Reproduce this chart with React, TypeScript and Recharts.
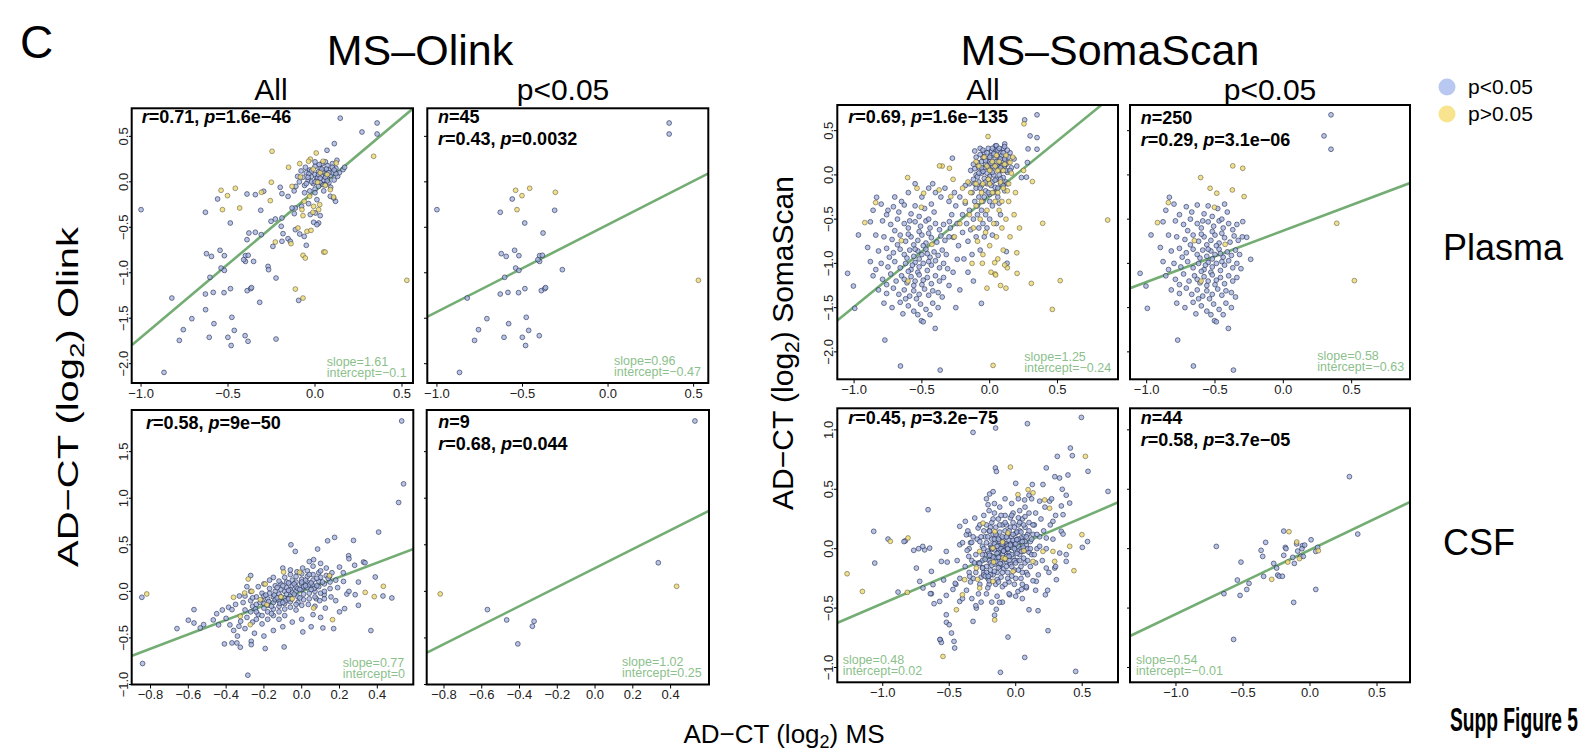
import { ScatterChart, Scatter, XAxis, YAxis, ReferenceLine } from 'recharts'

const FONT = '"Liberation Sans", Arial, Helvetica, sans-serif'
const LINE_GREEN = '#74ad74'
const TEXT_GREEN = '#8cbf8c'

type Pt = [number, number]

// ---- MS vs Olink, plasma ----
const olinkPlasmaSigBlue: Pt[] = [
  [0.357, 0.647], [0.357, 0.526], [-1.0, -0.306], [-0.63, -0.335], [-0.56, -0.189], [-0.312, -0.313], [-0.487, -0.453],
  [-0.38, -0.563], [-0.624, -0.79], [-0.595, -0.82], [-0.546, -0.753], [-0.521, -0.812], [-0.4, -0.812], [-0.384, -0.808],
  [-0.4, -0.875], [-0.54, -0.948], [-0.521, -0.974], [-0.604, -1.05], [-0.267, -0.966], [-0.823, -1.278], [-0.63, -1.234],
  [-0.585, -1.216], [-0.523, -1.219], [-0.486, -1.175], [-0.39, -1.197], [-0.37, -1.175], [-0.365, -1.164], [-0.708, -1.505],
  [-0.478, -1.49], [-0.757, -1.626], [-0.581, -1.56], [-0.464, -1.634], [-0.78, -1.744], [-0.608, -1.71], [-0.501, -1.71],
  [-0.402, -1.692], [-0.482, -1.8], [-0.868, -2.096], [-0.41, -0.856],
]
const olinkPlasmaSigYellow: Pt[] = [
  [-0.54, -0.093], [-0.458, -0.071], [-0.503, -0.152], [-0.532, -0.306], [-0.308, -0.115], [0.528, -1.083],
]
const olinkPlasmaRestBlue: Pt[] = [
  [-0.629, -1.406], [-0.385, -1.754], [-0.224, -1.729], [-0.318, -1.325], [-0.224, -1.058], [-0.27, -0.93], [-0.353, -0.875],
  [-0.343, -0.555], [-0.391, -0.636], [-0.309, -0.581], [0.145, 0.7], [0.27, 0.548], [0.111, 0.42], [0.069, 0.347],
  [0.126, 0.237], [0.161, 0.134], [0.118, -0.214], [-0.295, -0.104], [-0.343, -0.141], [-0.391, -0.134], [-0.253, -0.434],
  [-0.228, -0.409], [-0.19, -0.398], [-0.194, -0.489], [-0.184, -0.57], [-0.19, -0.654], [-0.155, -0.625], [-0.142, -0.654],
  [-0.113, -0.526], [-0.088, -0.574], [-0.05, -0.698], [-0.062, -0.6], [-0.113, -0.288], [-0.132, -0.288], [-0.119, -0.35],
  [-0.077, -0.27], [-0.027, -0.36], [0.002, -0.343], [-0.037, -0.24], [0.011, -0.196], [0.03, -0.372], [0.021, -0.453],
  [-0.008, -0.445], [0.011, -0.471], [0.088, -0.159], [0.107, -0.178], [0.046, -0.031], [-0.242, -0.71], [-0.094, -1.304],
  [-0.155, -0.16], [-0.19, -0.13], [-0.2, -0.06], [-0.12, -0.1], [-0.06, -0.12],
  [-0.07, 0.05], [-0.05, 0.1], [-0.04, 0.02], [-0.03, 0.13], [-0.02, 0.06], [-0.01, -0.02], [0.0, 0.08], [0.0, 0.17],
  [0.01, 0.03], [0.02, 0.11], [0.02, -0.05], [0.03, 0.0], [0.03, 0.15], [0.04, 0.07], [0.04, 0.2], [0.05, 0.02],
  [0.05, 0.12], [0.06, -0.03], [0.06, 0.09], [0.07, 0.18], [0.07, 0.04], [0.08, 0.13], [0.08, -0.01], [0.09, 0.07],
  [0.1, 0.2], [0.1, 0.1], [0.11, 0.02], [0.12, 0.15], [0.13, 0.06], [-0.06, -0.04], [-0.02, 0.0], [0.0, -0.08],
  [0.015, 0.05], [-0.035, 0.09], [0.045, 0.11], [0.025, 0.19], [0.065, 0.14], [-0.055, 0.16], [-0.09, 0.0], [-0.08, 0.12],
  [0.09, -0.06], [0.14, 0.1], [0.17, 0.16], [-0.1, 0.06], [0.0, -0.12], [0.05, -0.1], [-0.11, -0.05], [-0.03, -0.1],
  [-0.04, 0.05], [0.0, 0.0], [0.02, 0.08], [0.04, 0.14], [0.06, 0.05], [0.08, 0.1], [0.1, 0.16], [0.12, 0.09],
  [-0.02, 0.12], [0.0, 0.22], [0.06, 0.22], [0.03, 0.04], [-0.05, -0.02], [0.11, 0.13], [0.07, 0.01],
]
const olinkPlasmaRestYellow: Pt[] = [
  [-0.247, 0.336], [-0.251, -0.005], [-0.257, -0.207], [-0.152, 0.16], [-0.088, 0.2], [0.007, 0.317], [-0.027, 0.25],
  [-0.037, 0.226], [0.046, 0.226], [0.122, 0.207], [-0.084, 0.053], [0.015, -0.005], [0.059, -0.038], [0.088, -0.086],
  [-0.062, -0.214], [-0.008, -0.27], [-0.031, -0.159], [0.027, -0.251], [0.021, -0.306], [-0.012, -0.335], [-0.069, -0.372],
  [-0.075, -0.306], [-0.098, -0.508], [-0.046, -0.545], [-0.023, -0.534], [-0.228, -0.662], [-0.138, -0.68], [-0.069, -0.808],
  [-0.056, -0.838], [0.05, -0.772], [0.058, -0.772], [-0.113, -1.179], [-0.069, -1.278], [0.337, 0.281], [0.107, -0.167],
  [-0.132, -0.05], [0.03, 0.1], [0.07, 0.08], [-0.01, 0.14], [-0.433, -0.288],
]

// ---- MS vs Olink, CSF ----
const olinkCsfSigBlue: Pt[] = [
  [0.529, 1.829], [-0.57, -0.196], [-0.468, -0.307], [-0.409, -0.564], [-0.332, -0.375], [-0.323, -0.321], [0.335, 0.307],
]
const olinkCsfSigYellow: Pt[] = [[-0.82, -0.028], [0.432, 0.054]]
const olinkCsfRestBlue: Pt[] = [
  [0.539, 1.154], [0.513, 0.954], [0.407, 0.636], [0.274, 0.547], [0.174, 0.579], [0.137, 0.543], [-0.057, 0.5],
  [-0.034, 0.429], [0.248, 0.382], [0.327, 0.315], [0.2, 0.261], [0.389, 0.154], [0.477, -0.071], [0.366, -0.421],
  [-0.846, -0.064], [-0.842, -0.775], [-0.519, -0.357], [-0.537, -0.393], [-0.387, -0.171], [-0.369, -0.196], [-0.369, -0.554],
  [-0.343, -0.554], [-0.325, -0.6], [-0.267, -0.536], [-0.267, -0.572], [-0.285, -0.9], [-0.193, -0.614], [-0.093, -0.597],
  [0.006, -0.436], [0.112, -0.393], [0.169, -0.4], [0.227, -0.185], [0.239, -0.029], [0.283, -0.036], [0.084, 0.454],
  [0.063, 0.34], [0.147, 0.161], [0.221, 0.107], [0.077, -0.079], [0.119, -0.036],
  [-0.3, -0.05], [-0.3, -0.2], [-0.29, -0.28], [-0.31, -0.12], [-0.29, 0.05], [-0.27, -0.1], [-0.27, -0.22], [-0.26, -0.33],
  [-0.27, 0.0], [-0.26, -0.16], [-0.24, -0.06], [-0.24, -0.14], [-0.23, -0.25], [-0.24, -0.3], [-0.23, 0.05], [-0.245, -0.19],
  [-0.21, -0.02], [-0.21, -0.1], [-0.2, -0.18], [-0.21, -0.26], [-0.2, 0.08], [-0.21, -0.35], [-0.2, -0.05], [-0.18, -0.08],
  [-0.18, -0.15], [-0.17, -0.02], [-0.18, -0.22], [-0.17, 0.12], [-0.18, -0.3], [-0.17, 0.03], [-0.175, -0.11], [-0.15, -0.06],
  [-0.15, -0.12], [-0.14, 0.0], [-0.15, -0.19], [-0.14, 0.06], [-0.15, -0.26], [-0.14, -0.09], [-0.15, 0.15], [-0.145, -0.04],
  [-0.12, -0.03], [-0.12, -0.1], [-0.11, 0.02], [-0.12, -0.16], [-0.11, 0.08], [-0.12, -0.22], [-0.11, -0.06], [-0.12, 0.11],
  [-0.115, -0.13], [-0.12, -0.3], [-0.09, 0.0], [-0.09, -0.07], [-0.08, 0.04], [-0.09, -0.13], [-0.08, 0.1], [-0.09, -0.19],
  [-0.08, -0.03], [-0.09, 0.15], [-0.085, -0.1], [-0.09, -0.26], [-0.06, 0.02], [-0.06, -0.05], [-0.05, 0.06], [-0.06, -0.11],
  [-0.05, 0.12], [-0.06, -0.17], [-0.05, -0.01], [-0.06, 0.18], [-0.055, -0.08], [-0.06, 0.23], [-0.03, 0.0], [-0.03, 0.05],
  [-0.02, -0.06], [-0.03, 0.1], [-0.02, -0.12], [-0.03, 0.16], [-0.02, 0.03], [-0.03, -0.2], [-0.025, 0.21], [0.0, 0.02],
  [0.0, 0.08], [0.01, -0.03], [0.0, 0.13], [0.01, -0.09], [0.0, 0.19], [0.01, 0.05], [0.0, -0.15], [0.005, 0.25],
  [0.03, 0.04], [0.03, 0.1], [0.04, -0.02], [0.03, 0.16], [0.04, -0.08], [0.03, 0.22], [0.04, 0.07], [0.035, -0.14],
  [0.06, 0.06], [0.06, 0.12], [0.07, 0.0], [0.06, 0.18], [0.07, -0.06], [0.06, 0.27], [0.065, 0.03], [0.07, -0.16],
  [0.06, -0.25], [0.09, 0.05], [0.09, 0.11], [0.1, -0.02], [0.09, 0.2], [0.1, 0.3], [0.095, -0.1], [0.1, 0.15],
  [0.12, 0.08], [0.12, 0.0], [0.13, 0.17], [0.12, -0.08], [0.13, 0.25], [0.125, -0.18], [0.15, 0.1], [0.15, 0.03],
  [0.16, 0.2], [0.155, -0.06], [0.18, 0.12], [0.19, 0.04], [0.18, -0.1],
  [-0.42, -0.2], [-0.4, -0.29], [-0.36, -0.42], [-0.35, -0.14], [-0.33, -0.05], [-0.34, -0.48], [-0.38, -0.36], [-0.45, -0.24],
  [-0.44, -0.36], [-0.3, -0.4], [-0.25, -0.45], [-0.2, -0.48], [-0.15, -0.42], [-0.1, -0.38], [-0.05, -0.33], [0.0, -0.3],
  [0.05, -0.38], [0.1, -0.28], [0.2, -0.22], [0.25, 0.0], [0.3, 0.1], [0.22, 0.2], [0.28, 0.28], [0.3, -0.15],
  [0.43, -0.05], [0.25, 0.35], [-0.27, 0.17], [-0.1, 0.25], [0.04, 0.32], [-0.6, -0.31], [-0.57, -0.34], [-0.66, -0.4],
  [-0.22, -0.12], [-0.19, -0.04], [-0.16, -0.16], [-0.13, -0.07], [-0.13, 0.04], [-0.1, -0.12], [-0.1, 0.06], [-0.07, -0.08],
  [-0.07, 0.01], [-0.04, -0.03], [-0.04, 0.08], [-0.01, 0.02], [-0.01, -0.07], [0.02, 0.06], [0.02, 0.12], [0.05, 0.02],
  [0.05, 0.09], [0.08, 0.14], [0.08, 0.06], [0.11, 0.1], [-0.16, -0.24], [-0.2, -0.13], [-0.26, -0.07], [-0.24, -0.22],
  [-0.07, 0.09], [-0.03, -0.14], [0.0, 0.1], [0.04, 0.18], [0.1, 0.22], [0.14, 0.14],
]
const olinkCsfRestYellow: Pt[] = [
  [-0.361, -0.064], [-0.283, 0.132], [-0.264, 0.0], [-0.193, 0.079], [-0.096, 0.207], [-0.011, 0.204], [0.147, 0.168],
  [0.336, -0.011], [0.384, -0.057], [0.163, -0.304], [0.063, -0.179], [-0.272, -0.357], [-0.325, -0.268], [-0.219, -0.089],
  [-0.184, -0.143], [-0.11, -0.06], [-0.05, -0.08], [-0.302, -0.018],
]

// ---- MS vs SomaScan, plasma ----
const somaPlasmaSigBlue: Pt[] = [
  [0.349, 0.679], [0.298, 0.441], [0.349, 0.29], [-0.834, -0.253], [-0.968, -0.679], [-1.048, -1.112], [-1.005, -1.256],
  [-0.995, -1.508], [-0.773, -1.867], [-0.658, -2.16], [-0.365, -2.206], [-0.402, -1.735], [-0.504, -1.648], [-0.49, -1.66],
  [-0.239, -0.954], [-0.268, -0.705], [-0.297, -0.528],
  [-0.8, -0.33], [-0.71, -0.36], [-0.63, -0.34], [-0.55, -0.35], [-0.48, -0.38], [-0.43, -0.33], [-0.41, -0.42], [-0.67, -0.42],
  [-0.76, -0.45], [-0.58, -0.44], [-0.52, -0.47], [-0.86, -0.4], [-0.88, -0.53], [-0.79, -0.52], [-0.73, -0.56], [-0.68, -0.5],
  [-0.63, -0.55], [-0.6, -0.6], [-0.55, -0.53], [-0.51, -0.58], [-0.47, -0.52], [-0.44, -0.6], [-0.4, -0.55], [-0.37, -0.62],
  [-0.34, -0.56], [-0.7, -0.63], [-0.52, -0.64], [-0.59, -0.52], [-0.45, -0.5], [-0.84, -0.68], [-0.78, -0.7], [-0.72, -0.73],
  [-0.66, -0.68], [-0.62, -0.75], [-0.58, -0.7], [-0.53, -0.74], [-0.5, -0.68], [-0.47, -0.77], [-0.43, -0.71], [-0.39, -0.76],
  [-0.36, -0.69], [-0.33, -0.74], [-0.3, -0.7], [-0.68, -0.79], [-0.56, -0.79], [-0.49, -0.8], [-0.45, -0.66], [-0.6, -0.67],
  [-0.9, -0.82], [-0.82, -0.86], [-0.76, -0.83], [-0.71, -0.88], [-0.66, -0.84], [-0.63, -0.9], [-0.59, -0.85], [-0.56, -0.92],
  [-0.53, -0.86], [-0.5, -0.9], [-0.47, -0.84], [-0.44, -0.93], [-0.41, -0.87], [-0.38, -0.91], [-0.35, -0.85], [-0.32, -0.9],
  [-0.74, -0.93], [-0.61, -0.94], [-0.52, -0.95], [-0.46, -0.89], [-0.55, -0.84], [-0.88, -0.98], [-0.8, -1.0], [-0.75, -1.04],
  [-0.7, -0.98], [-0.66, -1.05], [-0.62, -1.0], [-0.58, -1.07], [-0.55, -0.99], [-0.52, -1.04], [-0.49, -1.0], [-0.46, -1.08],
  [-0.43, -1.02], [-0.4, -0.97], [-0.37, -1.05], [-0.34, -1.0], [-0.31, -1.06], [-0.84, -1.07], [-0.6, -1.09], [-0.53, -1.1],
  [-0.45, -0.98], [-0.57, -1.02], [-0.86, -1.14], [-0.79, -1.18], [-0.73, -1.12], [-0.69, -1.2], [-0.65, -1.14], [-0.61, -1.22],
  [-0.58, -1.15], [-0.55, -1.2], [-0.52, -1.13], [-0.49, -1.19], [-0.46, -1.16], [-0.43, -1.23], [-0.4, -1.14], [-0.37, -1.2],
  [-0.34, -1.16], [-0.76, -1.24], [-0.56, -1.25], [-0.5, -1.24], [-0.63, -1.18], [-0.82, -1.3], [-0.76, -1.34], [-0.71, -1.28],
  [-0.67, -1.35], [-0.63, -1.3], [-0.59, -1.37], [-0.56, -1.31], [-0.52, -1.35], [-0.48, -1.29], [-0.45, -1.36], [-0.42, -1.31],
  [-0.38, -1.33], [-0.35, -1.38], [-0.54, -1.4], [-0.62, -1.4], [-0.78, -1.45], [-0.72, -1.5], [-0.66, -1.44], [-0.6, -1.48],
  [-0.56, -1.54], [-0.51, -1.46], [-0.47, -1.52], [-0.42, -1.45], [-0.38, -1.5], [-0.64, -1.57], [-0.53, -1.58], [-0.44, -1.58],
]
const somaPlasmaSigYellow: Pt[] = [
  [-0.37, 0.102], [-0.297, 0.075], [-0.605, -0.03], [-0.536, -0.151], [-0.487, -0.207], [-0.373, -0.17], [-0.287, -0.245],
  [-0.841, -0.313], [-0.921, -0.539], [0.391, -0.547], [0.52, -1.195], [-0.504, -0.366], [-0.651, -0.743], [-0.426, -0.785],
  [-0.602, -1.2],
]
const somaPlasmaRestBlue: Pt[] = [
  [0.258, 0.622], [0.349, 0.422], [0.042, 0.328], [0.111, 0.35], [0.283, 0.294], [-0.275, 0.189], [0.278, 0.14],
  [0.234, -0.03], [0.271, -0.026], [-0.061, -1.452], [0.123, -0.867], [0.128, -0.999],
  [-0.14, 0.05], [-0.12, -0.05], [-0.12, 0.12], [-0.1, -0.15], [-0.1, 0.0], [-0.1, 0.2], [-0.08, 0.08], [-0.08, -0.08],
  [-0.08, -0.25], [-0.06, 0.15], [-0.06, 0.02], [-0.06, -0.12], [-0.05, -0.3], [-0.04, 0.25], [-0.04, 0.08], [-0.04, -0.04],
  [-0.03, -0.18], [-0.02, 0.18], [-0.02, 0.02], [-0.02, -0.1], [-0.01, 0.3], [0.0, 0.1], [0.0, -0.02], [0.0, -0.22],
  [0.01, 0.22], [0.01, 0.05], [0.02, -0.08], [0.02, -0.35], [0.03, 0.15], [0.03, 0.0], [0.04, 0.28], [0.04, -0.14],
  [0.05, 0.08], [0.05, -0.05], [0.06, 0.2], [0.06, -0.25], [0.07, 0.12], [0.07, 0.0], [0.08, 0.25], [0.08, -0.1],
  [0.09, 0.05], [0.09, 0.16], [0.1, -0.03], [0.1, 0.3], [0.11, 0.1], [0.11, -0.18], [0.12, 0.2], [0.13, 0.03],
  [0.14, 0.14], [0.15, 0.25], [0.16, 0.08], [0.18, 0.18], [0.2, 0.1], [0.05, 0.33], [-0.07, 0.3], [-0.09, -0.35],
  [-0.13, -0.2], [-0.15, -0.1], [0.0, 0.15], [0.02, 0.1], [-0.03, 0.12], [0.06, 0.1], [-0.01, -0.05], [0.03, -0.2],
  [0.12, -0.08], [0.07, -0.32], [-0.11, 0.27], [0.015, 0.27], [-0.05, 0.2], [0.09, 0.22],
  [-0.11, 0.07], [-0.11, -0.1], [-0.09, 0.14], [-0.09, -0.02], [-0.07, 0.23], [-0.07, -0.15], [-0.05, 0.04], [-0.05, 0.28],
  [-0.03, -0.08], [-0.03, 0.16], [-0.01, 0.08], [-0.01, -0.2], [0.01, 0.13], [0.01, -0.12], [0.02, 0.3], [0.02, 0.03],
  [0.04, 0.18], [0.04, -0.06], [0.05, 0.13], [0.06, -0.15], [0.06, 0.28], [0.07, 0.06], [0.08, 0.18], [0.08, -0.05],
  [0.09, 0.1], [0.1, 0.25], [0.1, -0.12], [0.11, 0.18], [0.12, 0.05], [0.13, 0.28], [0.13, -0.1], [0.14, 0.2],
  [-0.04, -0.25], [0.0, -0.3], [0.03, 0.24], [-0.02, 0.25], [0.07, 0.3], [0.11, 0.32], [0.0, 0.2], [-0.08, 0.02],
  [0.05, 0.15], [0.08, 0.08], [-0.06, 0.08], [0.12, 0.12], [0.15, 0.05],
  [-0.3, -0.3], [-0.28, -0.45], [-0.25, -0.35], [-0.24, -0.55], [-0.22, -0.25], [-0.2, -0.45], [-0.2, -0.65], [-0.18, -0.32],
  [-0.17, -0.55], [-0.16, -0.75], [-0.15, -0.4], [-0.14, -0.62], [-0.13, -0.9], [-0.12, -0.5], [-0.11, -0.3], [-0.1, -0.7],
  [-0.09, -0.45], [-0.08, -0.6], [-0.07, -0.85], [-0.06, -0.4], [-0.05, -0.55], [-0.04, -0.7], [-0.03, -0.45], [-0.02, -0.6],
  [0.0, -0.5], [0.02, -0.68], [0.05, -0.55], [0.08, -0.45], [-0.26, -0.2], [-0.33, -0.15], [-0.29, -0.6], [-0.23, -0.8],
  [-0.19, -0.95], [-0.27, -1.1], [-0.16, -1.1], [-0.22, -1.3], [-0.12, -1.2], [-0.25, -1.5], [-0.3, -1.25], [-0.18, -0.12],
  [-0.36, -0.25], [-0.4, -0.2], [-0.45, -0.15], [-0.42, -0.1], [-0.5, -0.25], [-0.6, -0.2], [-0.7, -0.25], [-0.75, -0.4],
  [-0.65, -0.3], [-0.55, -0.1],
]
const somaPlasmaRestYellow: Pt[] = [
  [0.253, 0.577], [-0.012, 0.434], [0.025, -2.153], [0.462, -1.52], [0.307, -1.226], [0.202, -1.113], [0.87, -0.51],
  [0.315, -0.075], [-0.18, -0.3], [-0.15, -0.45], [-0.14, -0.2], [-0.12, -0.6], [-0.1, -0.35], [-0.09, -0.75], [-0.08, 0.1],
  [-0.07, -0.5], [-0.06, -0.2], [-0.05, -0.9], [-0.04, 0.2], [-0.03, -0.65], [-0.02, -0.4], [-0.01, -0.05], [0.0, -0.8],
  [0.01, -1.1], [0.02, 0.15], [0.03, -0.55], [0.04, -0.3], [0.05, -0.7], [0.06, -0.95], [0.06, 0.05], [0.07, -0.4],
  [0.08, -1.25], [0.09, -0.6], [0.1, -0.15], [0.1, -0.85], [0.11, 0.12], [0.12, -0.5], [0.13, -1.05], [0.14, -0.3],
  [0.15, -0.7], [0.16, 0.02], [0.18, -0.45], [0.2, -0.88], [0.22, -0.6], [0.17, 0.2], [0.05, 0.22], [-0.1, 0.15],
  [-0.16, -0.08], [-0.2, -0.15], [-0.22, -0.55], [-0.26, -0.7], [-0.13, -1.0], [-0.02, -1.28], [0.04, -1.12], [0.12, -1.28],
  [0.02, -0.2], [0.08, -0.08], [-0.05, -0.1], [0.0, 0.05], [0.14, -0.1], [0.19, -0.2], [0.25, 0.05], [-0.35, 0.1],
  [-0.27, -0.05], [0.037, -0.992], [-0.054, -0.999], [0.111, -1.018], [0.044, -1.131],
  [-0.02, 0.1], [0.04, 0.1], [0.1, 0.05], [0.12, 0.22], [0.07, 0.15], [-0.06, -0.3], [0.0, -0.1], [0.06, -0.2],
  [0.13, -0.18], [-0.1, -0.1], [0.09, -0.3], [0.15, 0.14],
]

// ---- MS vs SomaScan, CSF ----
const somaCsfSigBlue: Pt[] = [
  [0.294, 0.606], [0.356, 0.123], [-0.699, 0.019], [-0.331, 0.053], [-0.365, -0.014], [-0.353, -0.065], [-0.515, -0.113],
  [-0.542, -0.264], [-0.455, -0.292], [-0.472, -0.343], [-0.642, -0.379], [-0.522, -0.393], [-0.122, -0.452], [-0.57, -0.764],
  [-0.196, 0.148], [0.008, 0.075], [-0.184, 0.011], [-0.179, 0.0], [-0.057, 0.025], [-0.196, -0.056], [-0.129, -0.073],
  [-0.117, -0.124], [-0.271, -0.124], [-0.249, -0.163], [-0.346, -0.233], [-0.241, -0.222], [-0.229, -0.232], [-0.206, -0.232],
  [0.043, -0.023], [0.057, 0.011], [0.043, -0.343], [-0.092, -0.02], [-0.069, -0.065], [-0.05, -0.065], [-0.06, 0.0],
  [-0.04, 0.03], [-0.1, 0.04],
]
const somaCsfSigYellow: Pt[] = [
  [-0.157, 0.143], [-0.099, 0.056], [-0.079, -0.084], [-0.166, -0.113], [-0.286, -0.258], [0.062, -0.017],
]
const somaCsfRestBlue: Pt[] = [
  [0.494, 1.105], [0.088, 1.052], [-0.151, 1.015], [-0.321, 0.979], [0.411, 0.847], [0.313, 0.777], [0.426, 0.783],
  [0.544, 0.651], [-0.153, 0.679], [-0.145, 0.65], [0.694, 0.482], [-0.659, 0.328], [-1.068, 0.146], [-1.06, -0.121],
  [-0.96, 0.081], [-0.83, 0.066], [-0.84, 0.06], [-0.767, -0.014], [-0.73, 0.0], [-0.685, -0.01], [-0.647, 0.005],
  [-0.885, -0.365], [-0.697, -0.331], [-0.634, -0.379], [-0.614, -0.463], [-0.567, -0.766], [-0.559, -0.789], [-0.521, -0.62],
  [-0.5, -0.64], [-0.483, -0.71], [-0.464, -0.78], [-0.459, -0.836], [-0.115, -1.041], [0.068, -0.915], [0.243, -0.69],
  [-0.058, -0.744], [0.168, -0.522], [0.1, -0.514], [0.451, -1.033], [0.331, -0.037], [0.38, -0.05], [0.501, 0.011],
  [0.223, -0.388], [0.54, 0.06], [0.38, 0.45], [0.35, 0.5], [-0.159, -0.56], [-0.146, -0.51], [-0.379, 0.23],
  [-0.351, 0.123], [-0.208, 0.37], [-0.196, 0.46], [-0.17, 0.48],
  [0.33, 0.595], [0.393, 0.62], [0.23, 0.68], [0.205, 0.54], [0.125, 0.54], [0.1, 0.45], [0.0, 0.55], [0.067, 0.41],
  [0.255, 0.4], [0.343, 0.36], [0.406, 0.384], [0.28, 0.23], [0.356, 0.286], [0.343, 0.146], [0.23, 0.09], [0.38, -0.107],
  [0.293, -0.163], [0.306, -0.261], [0.23, -0.163], [0.155, -0.275], [0.08, -0.33], [0.017, -0.36], [-0.045, -0.388],
  [-0.321, -0.612], [-0.296, -0.5], [-0.421, -0.444], [-0.522, -0.556], [-0.572, -0.444], [-0.622, -0.303], [-0.722, -0.275],
  [-0.747, -0.163], [-0.634, -0.191], [-0.559, -0.107], [-0.522, -0.023], [-0.421, 0.033], [-0.371, 0.117], [-0.283, 0.174],
  [-0.308, 0.258], [-0.421, 0.188],
  [-0.25, -0.1], [-0.25, 0.02], [-0.24, -0.2], [-0.23, 0.1], [-0.23, -0.05], [-0.22, -0.15], [-0.22, 0.05], [-0.21, -0.25],
  [-0.21, -0.02], [-0.2, 0.15], [-0.2, -0.1], [-0.19, 0.03], [-0.19, -0.18], [-0.18, 0.08], [-0.18, -0.06], [-0.17, -0.22],
  [-0.17, 0.12], [-0.16, -0.01], [-0.16, -0.13], [-0.15, 0.05], [-0.15, 0.18], [-0.15, -0.08], [-0.14, -0.2], [-0.14, 0.1],
  [-0.13, -0.03], [-0.13, 0.0], [-0.12, -0.15], [-0.12, 0.14], [-0.12, 0.06], [-0.11, -0.09], [-0.11, -0.24], [-0.1, 0.02],
  [-0.1, 0.2], [-0.1, -0.05], [-0.09, 0.09], [-0.09, -0.17], [-0.08, -0.01], [-0.08, 0.15], [-0.07, -0.11], [-0.07, 0.04],
  [-0.06, 0.12], [-0.06, -0.2], [-0.05, -0.04], [-0.05, 0.07], [-0.04, 0.18], [-0.04, -0.13], [-0.03, 0.01], [-0.03, 0.1],
  [-0.02, -0.07], [-0.02, 0.22], [-0.01, 0.05], [-0.01, -0.18], [0.0, 0.13], [0.0, -0.02], [0.01, 0.08], [0.01, -0.1],
  [0.02, 0.2], [0.02, 0.02], [0.03, -0.05], [0.03, 0.15], [0.04, 0.06], [0.04, -0.15], [0.05, 0.25], [0.05, 0.0],
  [0.06, 0.1], [0.06, -0.08], [0.07, 0.18], [0.08, 0.03], [0.08, -0.2], [0.09, 0.12], [0.1, 0.22], [0.1, -0.03],
  [-0.24, 0.15], [-0.18, 0.22], [-0.13, 0.25], [-0.08, 0.28], [-0.02, 0.3], [0.03, 0.32], [-0.2, -0.3], [-0.15, -0.3],
  [-0.1, -0.32], [-0.05, -0.28], [0.0, -0.25], [0.05, -0.3], [-0.27, -0.3], [-0.3, -0.2], [-0.3, -0.05], [-0.29, 0.08],
  [-0.16, 0.08], [-0.11, 0.03], [-0.06, -0.06], [-0.01, 0.0], [0.04, 0.09], [-0.14, -0.04], [-0.19, -0.12], [-0.07, 0.2],
  [0.07, 0.06], [-0.03, -0.23],
  [-0.28, -0.12], [-0.27, 0.06], [-0.26, -0.24], [-0.25, -0.16], [-0.24, 0.0], [-0.23, -0.09], [-0.22, -0.2], [-0.21, 0.1],
  [-0.2, -0.04], [-0.2, -0.27], [-0.19, 0.18], [-0.18, -0.14], [-0.18, 0.0], [-0.17, -0.07], [-0.17, 0.25], [-0.16, -0.19],
  [-0.16, 0.04], [-0.15, -0.11], [-0.15, 0.12], [-0.14, -0.26], [-0.14, 0.02], [-0.13, 0.08], [-0.13, -0.16], [-0.12, -0.07],
  [-0.12, 0.2], [-0.11, 0.0], [-0.11, -0.13], [-0.1, 0.1], [-0.1, -0.2], [-0.09, -0.02], [-0.09, 0.05], [-0.08, -0.09],
  [-0.08, 0.22], [-0.07, -0.15], [-0.07, 0.1], [-0.06, 0.0], [-0.06, -0.25], [-0.05, 0.15], [-0.05, -0.1], [-0.04, 0.04],
  [-0.04, 0.26], [-0.03, -0.05], [-0.03, -0.15], [-0.02, 0.12], [-0.02, 0.07], [-0.01, -0.1], [-0.01, 0.18], [0.0, 0.04],
  [0.0, -0.12], [0.01, 0.14], [0.01, -0.04], [0.02, -0.18], [0.02, 0.08], [0.03, 0.22], [0.03, -0.1], [0.04, 0.0],
  [0.04, 0.14], [0.05, -0.2], [0.05, 0.06], [0.06, 0.2], [0.06, -0.02], [0.07, -0.12], [0.08, 0.1], [0.09, 0.0],
  [0.09, -0.1], [0.1, 0.15], [0.11, 0.06], [0.12, -0.05], [0.13, 0.12], [0.14, 0.2], [-0.26, 0.1], [-0.22, 0.2],
  [-0.25, -0.05], [-0.19, -0.22], [-0.13, -0.28], [-0.08, -0.3], [-0.03, 0.28], [0.02, 0.26], [0.07, 0.27], [-0.11, 0.28],
  [-0.16, 0.3], [-0.21, -0.33], [-0.01, -0.3], [0.04, -0.25], [0.09, -0.22], [0.15, -0.12], [0.16, 0.0], [0.18, 0.1],
  [-0.33, -0.1], [-0.32, -0.25], [-0.35, -0.2], [-0.34, 0.05],
  [-0.44, -0.1], [-0.42, -0.25], [-0.4, 0.05], [-0.38, -0.15], [-0.37, -0.35], [-0.35, 0.0], [-0.34, -0.28], [-0.33, -0.42],
  [-0.32, 0.1], [-0.31, -0.12], [-0.3, -0.48], [-0.28, -0.38], [-0.27, 0.2], [-0.26, -0.45], [-0.24, 0.28], [-0.22, -0.38],
  [-0.2, 0.32], [-0.18, -0.45], [-0.16, 0.38], [-0.14, -0.4], [-0.12, 0.35], [-0.1, -0.45], [-0.08, 0.42], [-0.05, -0.38],
  [-0.03, 0.38], [0.0, -0.4], [0.02, 0.42], [0.05, -0.42], [0.07, 0.35], [0.08, -0.32], [0.1, 0.3], [0.11, -0.15],
  [0.12, 0.08], [0.13, 0.2], [0.14, -0.05], [0.15, 0.3], [0.16, 0.12], [0.17, -0.22], [0.18, 0.02], [0.19, 0.25],
  [0.2, -0.1], [0.21, 0.15], [0.22, 0.35], [0.23, 0.0], [0.25, -0.2], [0.26, 0.2], [0.28, 0.08], [0.3, -0.15],
  [0.27, 0.42], [0.12, 0.42], [-0.36, 0.15], [-0.4, -0.42], [-0.45, -0.3], [0.15, -0.35], [0.3, 0.28], [0.24, -0.35],
  [0.18, 0.4], [-0.22, 0.42], [0.11, 0.0], [0.13, -0.27],
]
const somaCsfRestYellow: Pt[] = [
  [-0.04, 0.687], [0.524, 0.777], [-1.268, -0.211], [-1.153, -0.36], [-0.943, 0.062], [-0.81, 0.09], [-0.815, -0.368],
  [-0.547, -0.907], [0.438, -0.185], [0.498, 0.118], [-0.446, -0.514], [-0.401, -0.388], [-0.158, -0.6],
  [0.093, 0.497], [0.13, 0.47], [0.218, 0.41], [0.255, 0.34], [-0.246, 0.215], [0.017, 0.455], [0.28, -0.023],
  [0.293, -0.107], [0.406, 0.02], [-0.058, 0.132], [-0.171, 0.005], [-0.095, -0.078], [-0.271, -0.023], [-0.296, -0.163],
  [-0.384, -0.261], [-0.271, -0.331], [-0.171, -0.275], [-0.02, -0.191], [0.13, -0.107], [0.205, -0.023],
]

// regression fits and correlation stats, one entry per panel
const fitSlope = [1.61, 0.96, 0.77, 1.02, 1.25, 0.58, 0.48, 0.54]
const fitIntercept = [-0.1, -0.47, 0, 0.25, -0.24, -0.63, 0.02, -0.01]
const corrR = ['0.71', '0.43', '0.58', '0.68', '0.69', '0.29', '0.45', '0.58']
const corrP = ['1.6e−46', '0.0032', '9e−50', '0.044', '1.6e−135', '3.1e−06', '3.2e−75', '3.7e−05']
const sigN = ['', '45', '', '9', '', '250', '', '44']

const ticksA = [-1, -0.5, 0, 0.5]
const ticksB = [-0.8, -0.6, -0.4, -0.2, 0, 0.2, 0.4]
const yTicksPlasmaOlink = [-2, -1.5, -1, -0.5, 0, 0.5]
const yTicksCsfOlink = [-1, -0.5, 0, 0.5, 1, 1.5]
const yTicksPlasmaSoma = [-2, -1.5, -1, -0.5, 0, 0.5]
const yTicksCsfSoma = [-1, -0.5, 0, 0.5, 1]

const panels = [
  { left: 131.7, top: 108.3, right: 413, bottom: 383, xd: [-1.052, 0.565], yd: [-2.209, 0.812], xt: ticksA, yt: yTicksPlasmaOlink, lab: true,
    blue: [...olinkPlasmaRestBlue, ...olinkPlasmaSigBlue], yellow: [...olinkPlasmaRestYellow, ...olinkPlasmaSigYellow], sx: 141.7, sy: 123, fx: 326.7, fy: 366 },
  { left: 427.3, top: 108.3, right: 708.3, bottom: 383, xd: [-1.058, 0.584], yd: [-2.209, 0.812], xt: ticksA, yt: yTicksPlasmaOlink, lab: false,
    blue: olinkPlasmaSigBlue, yellow: olinkPlasmaSigYellow, sx: 438, sy: 123, fx: 614, fy: 365 },
  { left: 131.7, top: 410, right: 413.3, bottom: 684.5, xd: [-0.898, 0.592], yd: [-1.0, 1.947], xt: ticksB, yt: yTicksCsfOlink, lab: true,
    blue: [...olinkCsfRestBlue, ...olinkCsfSigBlue], yellow: [...olinkCsfRestYellow, ...olinkCsfSigYellow], sx: 146, sy: 428.5, fx: 342.7, fy: 666.5 },
  { left: 426.7, top: 410, right: 709, bottom: 684.5, xd: [-0.89, 0.605], yd: [-1.0, 1.947], xt: ticksB, yt: yTicksCsfOlink, lab: false,
    blue: olinkCsfSigBlue, yellow: olinkCsfSigYellow, sx: 438.3, sy: 428.3, fx: 622, fy: 665.7 },
  { left: 837.3, top: 105, right: 1118, bottom: 379.3, xd: [-1.126, 0.944], yd: [-2.31, 0.79], xt: ticksA, yt: yTicksPlasmaSoma, lab: true,
    blue: [...somaPlasmaRestBlue, ...somaPlasmaSigBlue], yellow: [...somaPlasmaRestYellow, ...somaPlasmaSigYellow], sx: 848.3, sy: 123.3, fx: 1024.3, fy: 360.7 },
  { left: 1130, top: 105, right: 1410, bottom: 379.3, xd: [-1.122, 0.927], yd: [-2.31, 0.79], xt: ticksA, yt: yTicksPlasmaSoma, lab: false,
    blue: somaPlasmaSigBlue, yellow: somaPlasmaSigYellow, sx: 1140.7, sy: 124, fx: 1317.3, fy: 360 },
  { left: 837.3, top: 408.3, right: 1118, bottom: 682.3, xd: [-1.344, 0.767], yd: [-1.122, 1.184], xt: ticksA, yt: yTicksCsfSoma, lab: true,
    blue: [...somaCsfRestBlue, ...somaCsfSigBlue], yellow: [...somaCsfRestYellow, ...somaCsfSigYellow], sx: 848.3, sy: 424.3, fx: 842.7, fy: 663.7 },
  { left: 1130, top: 408.3, right: 1410, bottom: 682.3, xd: [-1.343, 0.746], yd: [-1.122, 1.184], xt: ticksA, yt: yTicksCsfSoma, lab: false,
    blue: somaCsfSigBlue, yellow: somaCsfSigYellow, sx: 1140.7, sy: 424.3, fx: 1136, fy: 663.7 },
]

const LW = 30
const BH = 30

const fmt = (v: number) => (v < 0 ? '−' : '') + Math.abs(v).toFixed(1)
const fmtNum = (v: number) => String(v).replace('-', '−')
const toXY = (pts: Pt[]) => pts.map(([x, y]) => ({ x, y }))

const XTick = (props: any) => {
  const { x, y, payload } = props
  return (
    <text x={x} y={y} dy={11} textAnchor="middle" fontSize={13} fill="#222" fontFamily={FONT}>
      {fmt(payload.value)}
    </text>
  )
}

const YTick = (props: any) => {
  const { x, y, payload } = props
  return (
    <text transform={`rotate(-90 ${x} ${y})`} x={x} y={y - 1} textAnchor="middle" fontSize={13} fill="#222" fontFamily={FONT}>
      {fmt(payload.value)}
    </text>
  )
}

const NoTick = () => <g />

const blueDot = (p: any) => (
  <circle cx={p.cx} cy={p.cy} r={2.4} fill="#a4b3e0" fillOpacity={0.78} stroke="#1e264a" strokeOpacity={0.75} strokeWidth={0.8} />
)
const yellowDot = (p: any) => (
  <circle cx={p.cx} cy={p.cy} r={2.4} fill="#f0dc78" fillOpacity={0.85} stroke="#4f4a30" strokeOpacity={0.65} strokeWidth={0.8} />
)

function Panel({ d, i }: { d: any; i: number }) {
  const w = d.right - d.left
  const h = d.bottom - d.top
  const [x0, x1] = d.xd
  const s = fitSlope[i]
  const b = fitIntercept[i]
  return (
    <div style={{ position: 'absolute', left: d.left - LW, top: d.top }}>
      <ScatterChart width={w + LW} height={h + BH} margin={{ top: 0, right: 0, bottom: 0, left: 0 }}>
        <XAxis type="number" dataKey="x" domain={d.xd} ticks={d.xt} allowDataOverflow interval={0}
          axisLine={false} tickSize={4} tickMargin={0} tickLine={{ stroke: '#000' }} tick={<XTick />} height={BH} />
        <YAxis type="number" dataKey="y" domain={d.yd} ticks={d.yt} allowDataOverflow interval={0}
          axisLine={false} tickSize={3} tickMargin={0} tickLine={{ stroke: '#000' }} tick={d.lab ? <YTick /> : <NoTick />} width={LW} />
        <Scatter data={toXY(d.blue)} shape={blueDot} isAnimationActive={false} />
        <Scatter data={toXY(d.yellow)} shape={yellowDot} isAnimationActive={false} />
        <ReferenceLine segment={[{ x: x0, y: b + s * x0 }, { x: x1, y: b + s * x1 }]}
          stroke={LINE_GREEN} strokeWidth={2.6} ifOverflow="hidden" />
      </ScatterChart>
    </div>
  )
}

export default function App() {
  return (
    <div style={{ position: 'absolute', left: 0, top: 0, width: 1581, height: 753, background: '#fff', fontFamily: FONT }}>
      {panels.map((d, i) => <Panel key={i} d={d} i={i} />)}
      <svg width={1581} height={753} style={{ position: 'absolute', left: 0, top: 0, pointerEvents: 'none' }} fontFamily={FONT}>
        {panels.map((d, i) => (
          <g key={i}>
            <rect x={d.left} y={d.top} width={d.right - d.left} height={d.bottom - d.top} fill="none" stroke="#000" strokeWidth={2} />
            {sigN[i] ? (
              <>
                <text x={d.sx} y={d.sy} fontSize={18} fontWeight="bold"><tspan fontStyle="italic">n</tspan>={sigN[i]}</text>
                <text x={d.sx} y={d.sy + 22} fontSize={18} fontWeight="bold">
                  <tspan fontStyle="italic">r</tspan>={corrR[i]}, <tspan fontStyle="italic">p</tspan>={corrP[i]}
                </text>
              </>
            ) : (
              <text x={d.sx} y={d.sy} fontSize={18} fontWeight="bold">
                <tspan fontStyle="italic">r</tspan>={corrR[i]}, <tspan fontStyle="italic">p</tspan>={corrP[i]}
              </text>
            )}
            <text x={d.fx} y={d.fy} fontSize={12.5} fill={TEXT_GREEN}>slope={fmtNum(fitSlope[i])}</text>
            <text x={d.fx} y={d.fy + 11} fontSize={12.5} fill={TEXT_GREEN}>intercept={fmtNum(fitIntercept[i])}</text>
          </g>
        ))}
        <text x={20} y={58} fontSize={46}>C</text>
        <text x={420} y={65} fontSize={43} textAnchor="middle">MS–Olink</text>
        <text x={1110} y={65} fontSize={43} textAnchor="middle">MS–SomaScan</text>
        <text x={271} y={100} fontSize={30} textAnchor="middle">All</text>
        <text x={563} y={100} fontSize={30} textAnchor="middle">p&lt;0.05</text>
        <text x={983} y={100} fontSize={30} textAnchor="middle">All</text>
        <text x={1270} y={100} fontSize={30} textAnchor="middle">p&lt;0.05</text>
        <circle cx={1447} cy={87} r={8.5} fill="#b8c8f0" />
        <circle cx={1447} cy={114} r={8.5} fill="#f8e48e" />
        <text x={1468} y={94} fontSize={21}>p&lt;0.05</text>
        <text x={1468} y={121} fontSize={21}>p&gt;0.05</text>
        <text x={1443} y={260} fontSize={36}>Plasma</text>
        <text x={1443} y={555} fontSize={36}>CSF</text>
        <text transform="rotate(-90 78 397)" x={78} y={397} fontSize={30} textAnchor="middle" textLength={340} lengthAdjust="spacingAndGlyphs">
          AD−CT (log<tspan dy={6} fontSize={21}>2</tspan><tspan dy={-6}>) Olink</tspan>
        </text>
        <text transform="rotate(-90 793 343)" x={793} y={343} fontSize={30} textAnchor="middle">
          AD−CT (log<tspan dy={6} fontSize={21}>2</tspan><tspan dy={-6}>) SomaScan</tspan>
        </text>
        <text x={784} y={743} fontSize={26} textAnchor="middle">
          AD−CT (log<tspan dy={5} fontSize={18}>2</tspan><tspan dy={-5}>) MS</tspan>
        </text>
        <g transform="translate(1450 731) scale(0.565 1)">
          <text x={0} y={0} fontSize={34} fontWeight="bold">Supp Figure 5</text>
        </g>
      </svg>
    </div>
  )
}
